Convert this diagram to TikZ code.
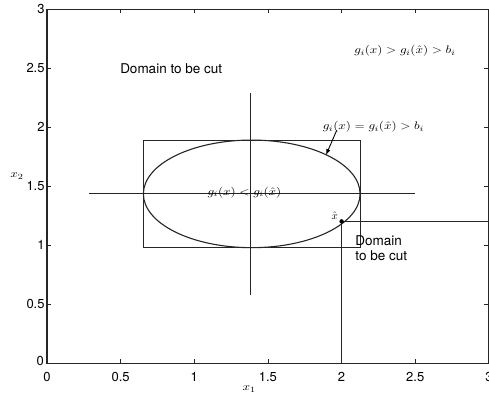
\documentclass[tikz,border=0pt]{standalone}
\usepackage{fontspec}
\usetikzlibrary{arrows.meta}
\newfontfamily\hv{TeX Gyre Heros}
\newcommand{\wmath}[1]{\scalebox{1.2}[1]{$#1$}}
\begin{document}
\begin{tikzpicture}[x=147.3pt,y=118pt,
  ln/.style={line width=0.9pt, black!85},
  tick/.style={line width=0.8pt, black!85},
  ticklbl/.style={font=\hv\fontsize{13}{15}\selectfont, inner sep=0pt},
  sanslbl/.style={font=\hv\fontsize{13.5}{15}\selectfont, inner sep=0pt},
  mathlbl/.style={font=\fontsize{11}{13}\selectfont, inner sep=0pt}]
\useasboundingbox[fill=white] (-0.319,-0.294) rectangle (3.0007,3.079);
% frame
\draw[line width=1.1pt, black!85] (0,0) rectangle (3,3);
% ticks
\foreach \x in {0.5,1,1.5,2,2.5}{
  \draw[tick] (\x,0) -- ++(0,0.035);
  \draw[tick] (\x,3) -- ++(0,-0.035);
}
\foreach \x in {0,0.5,1,1.5,2,2.5,3}
  \node[ticklbl, anchor=base] at (\x,-0.153) {\x};
\foreach \y in {0.5,1,1.5,2,2.5}{
  \draw[tick] (0,\y) -- ++(0.03,0);
  \draw[tick] (3,\y) -- ++(-0.03,0);
}
\foreach \y in {0.5,1,1.5,2,2.5,3}
  \node[ticklbl, anchor=east] at (-0.015,\y) {\y};
\node[ticklbl, anchor=east] at (-0.02,0.02) {0};
% axis labels
\node[mathlbl] (xlab) at (1.373,-0.218) {\wmath{x_1}};
\node[mathlbl] (ylab) at (-0.204,1.588) {\wmath{x_2}};
% bounding rectangle and ellipse
\draw[ln] (0.654,0.98) rectangle (2.125,1.892);
\draw[line width=1.1pt, black!85] (1.39,1.436) ellipse [x radius=0.7355, y radius=0.456];
% cross
\draw[ln] (0.287,1.437) -- (2.498,1.437);
\draw[ln] (1.378,2.288) -- (1.378,0.579);
% x hat
\coordinate (xh) at (2.0,1.203);
\coordinate (xbot) at (2.0,0);
\coordinate (xright) at (3,1.203);
\draw[ln] (xh) -- (xbot);
\draw[ln] (xh) -- (xright);
\fill (xh) circle [radius=2.2pt];
\node[mathlbl] (xhl) at (1.953,1.255) {$\hat{x}$};
% labels
\node[sanslbl, anchor=west] (dom1) at (0.496,2.494) {Domain to be cut};
\node[sanslbl, anchor=north west, align=left] (dom2) at (2.093,1.087) {Domain\\to be cut};
\node[mathlbl] (gt) at (2.430,2.647) {\wmath{g_i(x) > g_i(\hat{x}) > b_i}};
\node[mathlbl] (eq) at (2.216,2.003) {\wmath{g_i(x) = g_i(\hat{x}) > b_i}};
\node[mathlbl] (lt) at (1.341,1.447) {\wmath{g_i(x) < g_i(\hat{x})}};
\coordinate (tip) at (1.894,1.765);
\draw[line width=0.9pt, -{Latex[length=6pt,width=4.5pt]}] (1.967,1.975) -- (tip);
\end{tikzpicture}
\end{document}
